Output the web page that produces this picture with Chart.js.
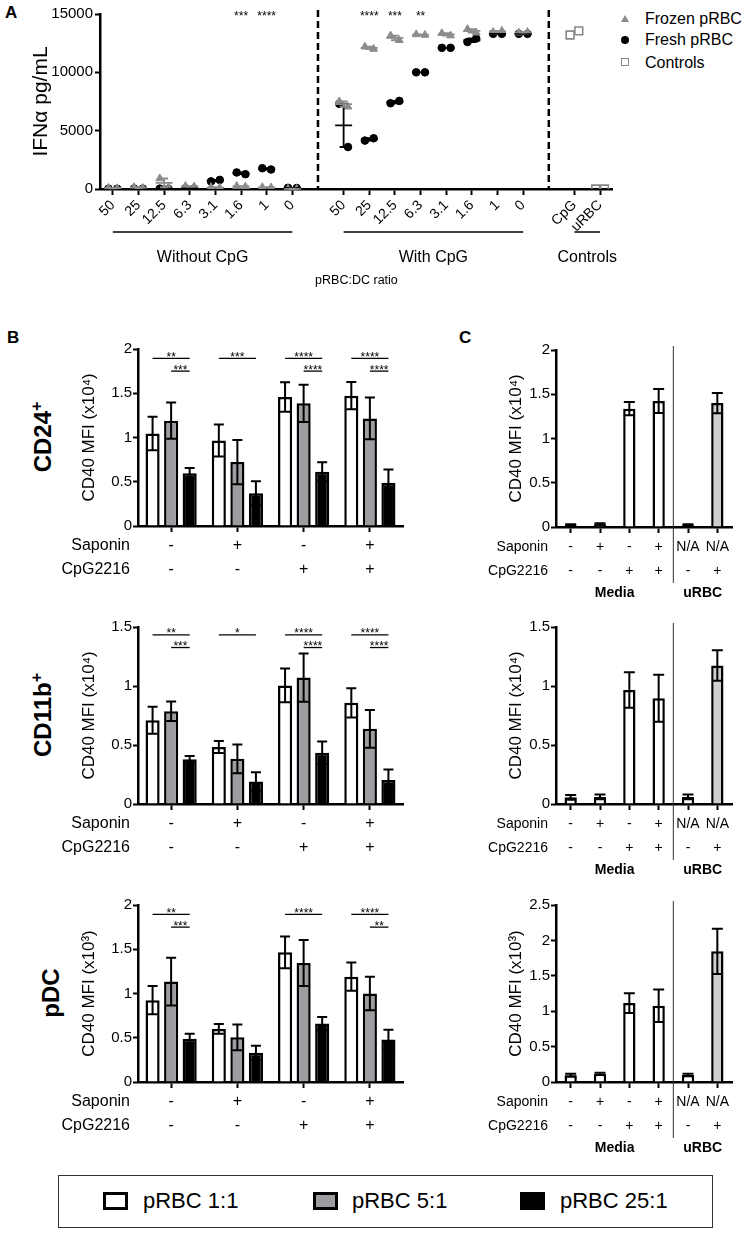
<!DOCTYPE html>
<html><head><meta charset="utf-8">
<script src="https://cdn.jsdelivr.net/npm/chart.js@4.4.1/dist/chart.umd.min.js"></script>
<style>
html,body{margin:0;padding:0;background:#fff;}
body{width:749px;height:1233px;position:relative;overflow:hidden;font-family:'Liberation Sans',Arial,sans-serif;color:#000;}
.cv{position:absolute;}
.letter{position:absolute;font-weight:bold;font-size:17px;line-height:18px;}
.rowlab{position:absolute;font-weight:bold;font-size:24px;line-height:26px;white-space:nowrap;transform:translate(-50%,-50%) rotate(-90deg);}
.rowlab .sp{font-size:16px;position:relative;top:-9px;}
.lgA{position:absolute;left:645px;font-size:16px;line-height:20px;white-space:nowrap;}
.legbox{position:absolute;left:58px;top:1175px;width:653px;height:51px;border:1.5px solid #333;}
.sw{position:absolute;top:16px;width:19px;height:12px;border:3px solid #000;}
.lt{position:absolute;top:12px;font-size:22px;line-height:26px;white-space:nowrap;}
</style></head><body>

<div class="letter" style="left:5px;top:4px">A</div>
<div class="letter" style="left:7px;top:329px">B</div>
<div class="letter" style="left:459px;top:329px">C</div>

<div class="rowlab" style="left:44px;top:437px">CD24<span class="sp">+</span></div>
<div class="rowlab" style="left:44px;top:715px">CD11b<span class="sp">+</span></div>
<div class="rowlab" style="left:51px;top:993px">pDC</div>

<div class="cv" style="left:0;top:0;width:620px;height:300px"><canvas id="cA"></canvas></div>

<div style="position:absolute;left:621px;top:15px;width:0;height:0;border-left:4px solid transparent;border-right:4px solid transparent;border-bottom:7px solid #8c8c8c"></div>
<div style="position:absolute;left:621px;top:36px;width:8px;height:8px;border-radius:50%;background:#000"></div>
<div style="position:absolute;left:621px;top:58px;width:6px;height:6px;border:1.6px solid #888"></div>
<div class="lgA" style="top:9px">Frozen pRBC</div>
<div class="lgA" style="top:30px">Fresh pRBC</div>
<div class="lgA" style="top:53px">Controls</div>

<div class="cv" style="left:0;top:330px;width:415px;height:270px"><canvas id="bCD24"></canvas></div>
<div class="cv" style="left:0;top:608px;width:415px;height:270px"><canvas id="bCD11b"></canvas></div>
<div class="cv" style="left:0;top:886px;width:415px;height:270px"><canvas id="bPDC"></canvas></div>
<div class="cv" style="left:460px;top:331px;width:280px;height:270px"><canvas id="cCD24"></canvas></div>
<div class="cv" style="left:460px;top:608px;width:280px;height:270px"><canvas id="cCD11b"></canvas></div>
<div class="cv" style="left:460px;top:886px;width:280px;height:270px"><canvas id="cPDC"></canvas></div>

<div class="legbox">
  <div class="sw" style="left:44px;background:#fff"></div><div class="lt" style="left:84px">pRBC 1:1</div>
  <div class="sw" style="left:254px;background:#9d9da1"></div><div class="lt" style="left:293px">pRBC 5:1</div>
  <div class="sw" style="left:461px;background:#000"></div><div class="lt" style="left:501px">pRBC 25:1</div>
</div>

<script>
// ---------------- DATA ----------------
// Panel A: IFNa pg/mL, two replicates per ratio
const A_LABELS = ['50','25','12.5','6.3','3.1','1.6','1','0','', '50','25','12.5','6.3','3.1','1.6','1','0','', 'CpG','uRBC'];
const A_GROUP_NAMES = ['Without CpG','With CpG','Controls'];
const A_YTICKS = [0,5000,10000,15000];
const A_FROZEN = [[100,60],[150,80],[900,150],[250,200],[150,100],[250,200],[150,120],[20,0],null,
                  [7500,7050],[12200,12000],[13150,12750],[13250,13200],[13350,13150],[13700,13400],[13450,13550],[13400,13450],null,null,null];
const A_FRESH  = [[30,20],[40,30],[30,20],[50,40],[650,780],[1420,1270],[1780,1670],[100,80],null,
                  [7300,3600],[4150,4350],[7350,7550],[10000,10000],[12100,12100],[12600,12900],[13300,13300],[13300,13300],null,null,null];
const A_CONTROLS = [null,null,null,null,null,null,null,null,null,null,null,null,null,null,null,null,null,null,[13200,13550],[0,0]];
const A_STARS = ['','','','','','***','****','','','','****','***','**','','','','','','',''];

// Panel B: CD40 MFI, groups = Saponin / CpG2216 combinations
const B_X_LABELS = [['-','-'],['+','-'],['-','+'],['+','+']];
const B_ROW_HEADERS = ['Saponin','CpG2216'];
const SERIES_NAMES = ['pRBC 1:1','pRBC 5:1','pRBC 25:1'];

const CD24_R1 = [1.045, 0.966, 1.458, 1.473];
const CD24_R1_ERR = [0.19, 0.18, 0.167, 0.153];
const CD24_R5 = [1.19, 0.723, 1.386, 1.216];
const CD24_R5_ERR = [0.205, 0.25, 0.21, 0.235];
const CD24_R25 = [0.595, 0.37, 0.614, 0.489];
const CD24_R25_ERR = [0.06, 0.135, 0.105, 0.15];
const CD24_SIG = [[0,0,2,1.894,'**'],[0,1,2,1.75,'***'],[1,0,2,1.894,'***'],[2,0,2,1.894,'****'],[2,1,2,1.75,'****'],[3,0,2,1.894,'****'],[3,1,2,1.75,'****']];

const CD11B_R1 = [0.71, 0.483, 1.005, 0.857];
const CD11B_R1_ERR = [0.115, 0.05, 0.143, 0.123];
const CD11B_R5 = [0.786, 0.383, 1.071, 0.637];
const CD11B_R5_ERR = [0.083, 0.122, 0.205, 0.16];
const CD11B_R25 = [0.38, 0.191, 0.434, 0.203];
const CD11B_R25_ERR = [0.026, 0.078, 0.095, 0.09];
const CD11B_SIG = [[0,0,2,1.434,'**'],[0,1,2,1.326,'***'],[1,0,2,1.434,'*'],[2,0,2,1.434,'****'],[2,1,2,1.326,'****'],[3,0,2,1.434,'****'],[3,1,2,1.326,'****']];

const PDC_R1 = [0.925, 0.60, 1.465, 1.19];
const PDC_R1_ERR = [0.16, 0.055, 0.18, 0.16];
const PDC_R5 = [1.135, 0.505, 1.345, 1.00];
const PDC_R5_ERR = [0.27, 0.145, 0.26, 0.19];
const PDC_R25 = [0.49, 0.33, 0.66, 0.48];
const PDC_R25_ERR = [0.055, 0.08, 0.075, 0.11];
const PDC_SIG = [[0,0,2,1.895,'**'],[0,1,2,1.75,'***'],[2,0,2,1.895,'****'],[3,0,2,1.895,'****'],[3,1,2,1.75,'**']];

// Panel C: controls
const C_X_LABELS = [['-','-'],['+','-'],['-','+'],['+','+'],['N/A','-'],['N/A','+']];
const C_GROUPS = [['Media',0,3],['uRBC',4,5]];
const C_CD24 = [0.02, 0.03, 1.337, 1.424, 0.02, 1.40];
const C_CD24_ERR = [0.01, 0.012, 0.075, 0.135, 0.01, 0.115];
const C_CD11B = [0.057, 0.06, 0.966, 0.896, 0.06, 1.174];
const C_CD11B_ERR = [0.02, 0.02, 0.15, 0.2, 0.02, 0.13];
const C_PDC = [0.096, 0.115, 1.115, 1.077, 0.10, 1.846];
const C_PDC_ERR = [0.02, 0.015, 0.14, 0.23, 0.015, 0.32];

// ---------------- STYLE ----------------
const FONT = "'Liberation Sans', Arial, sans-serif";
Chart.defaults.font.family = FONT;
Chart.defaults.color = '#000';
Chart.defaults.animation = false;
Chart.defaults.plugins.legend.display = false;
Chart.defaults.plugins.tooltip.enabled = false;
const SERIES_COLORS = ['#ffffff','#9d9da1','#000000'];
const C_COLORS = ['#ffffff','#ffffff','#ffffff','#ffffff','#ffffff','#cfcfcf'];
const FROZEN_COL = '#8c8c8c';
const JIT = 0.17;

// ---------------- PANEL A ----------------
function pts(arr){
  const out=[];
  arr.forEach((reps,i)=>{ if(!reps) return; reps.forEach((v,r)=>out.push({x:i+(r===0?-JIT:JIT), y:v})); });
  return out;
}
function groupRuns(labels){
  const runs=[]; let s=null;
  labels.forEach((l,i)=>{ if(l!==''){ if(s===null) s=i; } else if(s!==null){ runs.push([s,i-1]); s=null; } });
  if(s!==null) runs.push([s,labels.length-1]);
  return runs;
}
const plugA = {
  id:'plugA',
  afterDraw(chart){
    const {ctx, chartArea:ca, scales:{x,y}} = chart;
    ctx.save();
    ctx.strokeStyle='#000'; ctx.lineWidth=2.5; ctx.setLineDash([7,4]);
    A_LABELS.forEach((l,i)=>{ if(l===''){ const px=x.getPixelForValue(i); ctx.beginPath(); ctx.moveTo(px,ca.top-4); ctx.lineTo(px,ca.bottom); ctx.stroke(); }});
    ctx.setLineDash([]);
    [[A_FRESH,'#000'],[A_FROZEN,FROZEN_COL]].forEach(([arr,col])=>{
      ctx.strokeStyle=col; ctx.lineWidth=1.8;
      arr.forEach((reps,i)=>{
        if(!reps) return;
        const m=(reps[0]+reps[1])/2, e=Math.abs(reps[0]-reps[1])/2;
        const px=x.getPixelForValue(i), pm=y.getPixelForValue(m), pt=y.getPixelForValue(m+e), pb=y.getPixelForValue(Math.max(0,m-e));
        ctx.beginPath();
        ctx.moveTo(px-8.5,pm); ctx.lineTo(px+8.5,pm);
        ctx.moveTo(px,pt); ctx.lineTo(px,pb);
        ctx.moveTo(px-4,pt); ctx.lineTo(px+4,pt);
        ctx.moveTo(px-4,pb); ctx.lineTo(px+4,pb);
        ctx.stroke();
      });
    });
    ctx.fillStyle='#000'; ctx.font='12px '+FONT; ctx.textAlign='center'; ctx.textBaseline='alphabetic';
    const ys = y.getPixelForValue(15000)+5.5;
    A_STARS.forEach((s,i)=>{ if(s) ctx.fillText(s, x.getPixelForValue(i), ys); });
    const runs = groupRuns(A_LABELS);
    ctx.lineWidth=1.5; ctx.strokeStyle='#000'; ctx.font='16px '+FONT; ctx.textBaseline='middle';
    runs.forEach(([s,e],k)=>{
      const x0=x.getPixelForValue(s), x1=x.getPixelForValue(e);
      ctx.beginPath(); ctx.moveTo(x0,ca.bottom+43); ctx.lineTo(x1,ca.bottom+43); ctx.stroke();
      ctx.fillText(A_GROUP_NAMES[k], (x0+x1)/2, ca.bottom+69);
    });
    ctx.font='12.5px '+FONT;
    ctx.fillText('pRBC:DC ratio', (ca.left+ca.right)/2, ca.bottom+92);
    ctx.restore();
  }
};
new Chart(document.getElementById('cA'), {
  type:'scatter',
  data:{datasets:[
    {label:'Frozen pRBC', data:pts(A_FROZEN), pointStyle:'triangle', pointRadius:4.5, backgroundColor:FROZEN_COL, borderColor:FROZEN_COL, borderWidth:1},
    {label:'Fresh pRBC', data:pts(A_FRESH), pointStyle:'circle', pointRadius:3.8, backgroundColor:'#000', borderColor:'#000', borderWidth:1},
    {label:'Controls', data:pts(A_CONTROLS), pointStyle:'rect', pointRadius:5.5, backgroundColor:'rgba(0,0,0,0)', borderColor:'#888', borderWidth:1.6}
  ]},
  options:{
    responsive:true, maintainAspectRatio:false,
    layout:{padding:{left:0,right:6,top:14,bottom:0}},
    scales:{
      x:{type:'linear', min:-0.5, max:A_LABELS.length-0.5,
         afterBuildTicks:s=>{ s.ticks = A_LABELS.map((_,i)=>({value:i})); },
         afterFit:s=>{ s.height=111; },
         ticks:{autoSkip:false, minRotation:45, maxRotation:45, padding:2, font:{size:14}, callback:v=>A_LABELS[v] ?? ''},
         grid:{drawOnChartArea:false, color:'#000', tickLength:6, tickWidth:2,
               tickColor:c=>(c.tick && A_LABELS[c.tick.value]==='') ? 'rgba(0,0,0,0)' : '#000'},
         border:{color:'#000', width:2.5}},
      y:{min:0, max:15000,
         afterBuildTicks:s=>{ s.ticks = A_YTICKS.map(v=>({value:v})); },
         afterFit:s=>{ s.width=100; },
         ticks:{font:{size:15}, padding:2, callback:v=>String(v)},
         grid:{drawOnChartArea:false, color:'#000', tickLength:5, tickWidth:2},
         border:{color:'#000', width:2.5},
         title:{display:true, text:'IFNα pg/mL', font:{size:21}, padding:{top:29,bottom:0}}}
    }
  },
  plugins:[plugA]
});

// ---------------- BAR PANELS ----------------
function barPlugin(o){
  return {
    id:'bp_'+o.id,
    afterDatasetsDraw(chart){
      const {ctx, scales:{y}} = chart;
      ctx.save(); ctx.strokeStyle='#000'; ctx.lineWidth=2;
      o.errs.forEach((errArr,di)=>{
        const meta=chart.getDatasetMeta(di), vals=chart.data.datasets[di].data;
        meta.data.forEach((el,j)=>{
          const v=vals[j], e=errArr[j];
          const pt=y.getPixelForValue(v+e), pb=y.getPixelForValue(Math.max(0,v-e));
          ctx.beginPath();
          ctx.moveTo(el.x,pt); ctx.lineTo(el.x,pb);
          ctx.moveTo(el.x-o.cap,pt); ctx.lineTo(el.x+o.cap,pt);
          ctx.moveTo(el.x-o.cap,pb); ctx.lineTo(el.x+o.cap,pb);
          ctx.stroke();
        });
      });
      ctx.restore();
    },
    afterDraw(chart){
      const {ctx, chartArea:ca, scales:{x,y}} = chart;
      ctx.save(); ctx.fillStyle='#000'; ctx.strokeStyle='#000';
      (o.sig||[]).forEach(([g,a,b,v,lab])=>{
        const xa=chart.getDatasetMeta(a).data[g].x, xb=chart.getDatasetMeta(b).data[g].x;
        const py=y.getPixelForValue(v);
        ctx.lineWidth=1.3; ctx.beginPath(); ctx.moveTo(xa,py); ctx.lineTo(xb,py); ctx.stroke();
        ctx.font='12px '+FONT; ctx.textAlign='center'; ctx.textBaseline='alphabetic';
        ctx.fillText(lab,(xa+xb)/2,py+2.5);
      });
      ctx.font=o.tickSize+'px '+FONT; ctx.textAlign='right'; ctx.textBaseline='middle';
      B_ROW_HEADERS.forEach((h,k)=>ctx.fillText(h, ca.left-8, ca.bottom+20+24*k));
      if(o.groups){
        ctx.font='bold 14px '+FONT; ctx.textAlign='center';
        o.groups.forEach(([name,s,e])=>ctx.fillText(name,(x.getPixelForValue(s)+x.getPixelForValue(e))/2, ca.bottom+66));
      }
      if(o.sepAfter!=null){
        const px=(x.getPixelForValue(o.sepAfter)+x.getPixelForValue(o.sepAfter+1))/2;
        ctx.lineWidth=1; ctx.strokeStyle='#333';
        ctx.beginPath(); ctx.moveTo(px,ca.top-4); ctx.lineTo(px,ca.bottom+56); ctx.stroke();
      }
      ctx.restore();
    }
  };
}
function makeBar(id, o){
  const yt=[]; for(let v=0; v<=o.yMax+1e-9; v+=0.5) yt.push(Math.round(v*10)/10);
  new Chart(document.getElementById(id), {
    type:'bar',
    data:{labels:o.labels, datasets:o.datasets.map(d=>Object.assign({borderColor:'#000', borderWidth:2.5, categoryPercentage:o.catPct, barPercentage:o.barPct}, d))},
    options:{
      responsive:true, maintainAspectRatio:false,
      layout:{padding:{left:0,right:o.padR,top:19,bottom:14}},
      scales:{
        x:{afterFit:s=>{ s.height=60; },
           ticks:{autoSkip:false, maxRotation:0, minRotation:0, padding:2, font:{size:o.tickSize, lineHeight:24/o.tickSize}},
           grid:{offset:false, drawOnChartArea:false, color:'#000', tickLength:6, tickWidth:2},
           border:{color:'#000', width:2.5}},
        y:{min:0, max:o.yMax,
           afterBuildTicks:s=>{ s.ticks = yt.map(v=>({value:v})); },
           afterFit:s=>{ s.width=o.yW; },
           ticks:{font:{size:15}, padding:1, callback:v=>String(v)},
           grid:{drawOnChartArea:false, color:'#000', tickLength:5, tickWidth:2},
           border:{color:'#000', width:2.5},
           title:{display:true, text:o.yTitle, font:{size:17}, padding:{top:o.titlePad,bottom:0}}}
      }
    },
    plugins:[barPlugin(Object.assign({id:id},o))]
  });
}
function bDatasets(a,b,c){ return [a,b,c].map((d,i)=>({label:SERIES_NAMES[i], data:d, backgroundColor:SERIES_COLORS[i]})); }
const bBase = {labels:B_X_LABELS, padR:12, yW:138, titlePad:79, tickSize:16, catPct:0.84, barPct:0.76, cap:5};
makeBar('bCD24', Object.assign({}, bBase, {yMax:2, yTitle:'CD40 MFI (x10⁴)', datasets:bDatasets(CD24_R1,CD24_R5,CD24_R25), errs:[CD24_R1_ERR,CD24_R5_ERR,CD24_R25_ERR], sig:CD24_SIG}));
makeBar('bCD11b', Object.assign({}, bBase, {yMax:1.5, yTitle:'CD40 MFI (x10⁴)', datasets:bDatasets(CD11B_R1,CD11B_R5,CD11B_R25), errs:[CD11B_R1_ERR,CD11B_R5_ERR,CD11B_R25_ERR], sig:CD11B_SIG}));
makeBar('bPDC', Object.assign({}, bBase, {yMax:2, yTitle:'CD40 MFI (x10³)', datasets:bDatasets(PDC_R1,PDC_R5,PDC_R25), errs:[PDC_R1_ERR,PDC_R5_ERR,PDC_R25_ERR], sig:PDC_SIG}));

const cBase = {labels:C_X_LABELS, padR:8, yW:96, titlePad:46, tickSize:14, catPct:1, barPct:0.42, cap:5.5, groups:C_GROUPS, sepAfter:3};
makeBar('cCD24', Object.assign({}, cBase, {yMax:2, yTitle:'CD40 MFI (x10⁴)', datasets:[{data:C_CD24, backgroundColor:C_COLORS}], errs:[C_CD24_ERR]}));
makeBar('cCD11b', Object.assign({}, cBase, {yMax:1.5, yTitle:'CD40 MFI (x10⁴)', datasets:[{data:C_CD11B, backgroundColor:C_COLORS}], errs:[C_CD11B_ERR]}));
makeBar('cPDC', Object.assign({}, cBase, {yMax:2.5, yTitle:'CD40 MFI (x10³)', datasets:[{data:C_PDC, backgroundColor:C_COLORS}], errs:[C_PDC_ERR]}));
</script>
</body></html>
